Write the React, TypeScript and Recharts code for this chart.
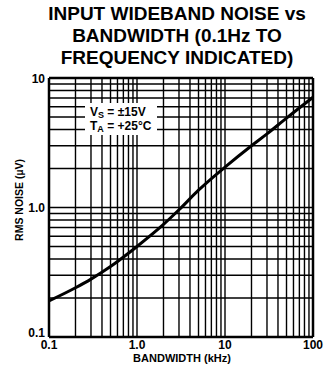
import React from 'react';
import { LineChart, Line, XAxis, YAxis, ReferenceLine } from 'recharts';

// bandwidth (kHz) vs rms input noise (uV)
const bandwidthKHz = [0.1, 0.2, 0.3, 0.5, 1, 2, 3, 5, 10, 20, 30, 50, 100];
const rmsNoiseUV = [0.19, 0.24, 0.28, 0.35, 0.5, 0.74, 0.96, 1.36, 2.05, 3.0, 3.7, 4.9, 7.1];

const xTicks = [0.1, 1, 10, 100];
const xTickLabels = ['0.1', '1.0', '10', '100'];
const yTicks = [0.1, 1, 10];
const yTickLabels = ['0.1', '1.0', '10'];

const gridX = [
  0.2, 0.3, 0.4, 0.5, 0.6, 0.7, 0.8, 0.9, 1,
  2, 3, 4, 5, 6, 7, 8, 9, 10,
  20, 30, 40, 50, 60, 70, 80, 90,
];
const gridY = [
  0.2, 0.3, 0.4, 0.5, 0.6, 0.7, 0.8, 0.9, 1,
  2, 3, 4, 5, 6, 7, 8, 9,
];

const titleLines = ['INPUT WIDEBAND NOISE vs', 'BANDWIDTH (0.1Hz TO', 'FREQUENCY INDICATED)'];

const data = bandwidthKHz.map((bw, i) => ({ bw, noise: rmsNoiseUV[i] }));

const FONT = "'Liberation Sans', Arial, Helvetica, sans-serif";

const labelFor = (ticks: number[], labels: string[], v: number) => {
  const i = ticks.findIndex((t) => Math.abs(t - v) < 1e-9);
  return i >= 0 ? labels[i] : String(v);
};

const XTick = (props: any) => {
  const { x, y, payload } = props;
  return (
    <text x={x} y={y + 12} textAnchor="middle" fill="#000" fontSize={12} fontWeight="bold" fontFamily={FONT}>
      {labelFor(xTicks, xTickLabels, payload.value)}
    </text>
  );
};

const YTick = (props: any) => {
  const { x, y, payload } = props;
  // the bottom label sits a little above the corner in the original
  const shift = payload.value <= 0.1 ? -4 : payload.value >= 10 ? 1 : 0;
  return (
    <text x={x} y={y + 4 + shift} textAnchor="end" fill="#000" fontSize={12} fontWeight="bold" fontFamily={FONT}>
      {labelFor(yTicks, yTickLabels, payload.value)}
    </text>
  );
};

export default function App() {
  return (
    <div style={{ position: 'absolute', left: 0, top: 0, width: 331, height: 367, background: '#fff', fontFamily: FONT }}>
      <div
        style={{
          position: 'absolute',
          left: 0,
          top: 3,
          width: 354,
          textAlign: 'center',
          fontSize: 19,
          lineHeight: '22px',
          fontWeight: 'bold',
          color: '#000',
        }}
      >
        {titleLines.map((t) => (
          <div key={t}>{t}</div>
        ))}
      </div>

      <LineChart width={331} height={367} data={data} margin={{ top: 78, right: 18, bottom: 0, left: 0 }}>
        {gridX.map((v) => (
          <ReferenceLine key={'gx' + v} x={v} stroke="#000" strokeWidth={1.4} />
        ))}
        {gridY.map((v) => (
          <ReferenceLine key={'gy' + v} y={v} stroke="#000" strokeWidth={1.4} />
        ))}
        <ReferenceLine x={100} stroke="#000" strokeWidth={2.5} />
        <ReferenceLine y={10} stroke="#000" strokeWidth={2.5} />
        <XAxis
          dataKey="bw"
          type="number"
          scale="log"
          domain={[0.1, 100]}
          ticks={xTicks}
          allowDataOverflow
          height={30}
          tickLine={false}
          tickSize={0}
          tickMargin={0}
          axisLine={{ stroke: '#000', strokeWidth: 2.5 }}
          tick={<XTick />}
          interval={0}
        />
        <YAxis
          type="number"
          scale="log"
          domain={[0.1, 10]}
          ticks={yTicks}
          allowDataOverflow
          width={49}
          tickLine={false}
          tickSize={0}
          tickMargin={4}
          axisLine={{ stroke: '#000', strokeWidth: 2.5 }}
          tick={<YTick />}
          interval={0}
        />
        <Line
          dataKey="noise"
          type="monotone"
          stroke="#000"
          strokeWidth={3}
          dot={false}
          isAnimationActive={false}
        />
      </LineChart>

      <div
        style={{
          position: 'absolute',
          left: 85,
          top: 103,
          width: 72,
          height: 32,
          background: '#fff',
          boxSizing: 'border-box',
          paddingLeft: 5,
          paddingTop: 4,
          fontSize: 12,
          lineHeight: '11px',
          fontWeight: 'bold',
          color: '#000',
          whiteSpace: 'nowrap',
        }}
      >
        <div>
          V<span style={{ fontSize: 9, verticalAlign: -2 }}>S</span> = ±15V
        </div>
        <div>
          T<span style={{ fontSize: 9, verticalAlign: -2 }}>A</span> = +25°C
        </div>
      </div>

      <div
        style={{
          position: 'absolute',
          left: 82,
          top: 352,
          width: 200,
          textAlign: 'center',
          fontSize: 11,
          lineHeight: '13px',
          fontWeight: 'bold',
          color: '#000',
        }}
      >
        BANDWIDTH (kHz)
      </div>

      <div
        style={{
          position: 'absolute',
          left: 19 - 60,
          top: 200 - 7,
          width: 120,
          height: 14,
          textAlign: 'center',
          fontSize: 10.5,
          lineHeight: '14px',
          fontWeight: 'bold',
          color: '#000',
          transform: 'rotate(-90deg)',
          whiteSpace: 'nowrap',
        }}
      >
        RMS NOISE (µV)
      </div>
    </div>
  );
}
